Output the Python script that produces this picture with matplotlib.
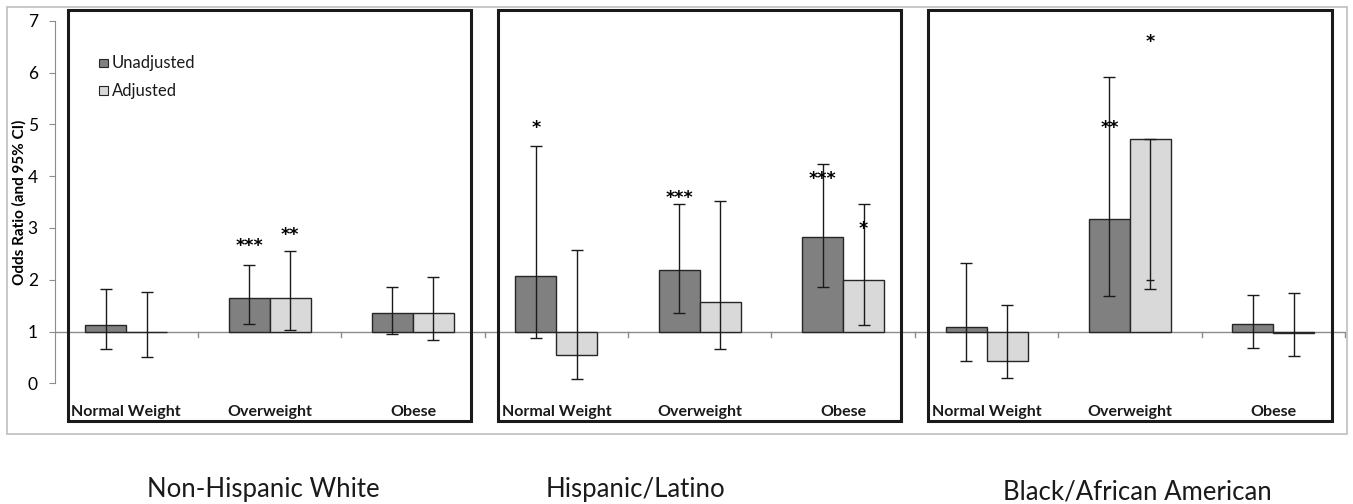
import matplotlib
matplotlib.use("Agg")
import matplotlib.pyplot as plt
from matplotlib.patches import Rectangle
import numpy as np

groups = ["Non-Hispanic White", "Hispanic/Latino", "Black/African American"]
weights = ["Normal Weight", "Overweight", "Obese"]

unadj = [1.13, 1.65, 1.35, 2.08, 2.19, 2.82, 1.09, 3.18, 1.14]
unadj_lo = [0.67, 1.15, 0.96, 0.88, 1.36, 1.85, 0.44, 1.69, 0.69]
unadj_hi = [1.83, 2.29, 1.85, 4.58, 3.47, 4.24, 2.32, 5.91, 1.70]

adj = [1.00, 1.65, 1.35, 0.55, 1.57, 1.99, 0.44, 4.72, 0.97]
adj_lo = [0.51, 1.02, 0.83, 0.09, 0.67, 1.13, 0.10, 1.83, 0.52]
adj_hi = [1.76, 2.55, 2.05, 2.57, 3.52, 3.47, 1.51, 4.72, 1.74]
extra_cap = (7, 2.00)  # additional cap drawn on the Black/AA adjusted overweight bar

unadj_stars = ["", "***", "", "*", "***", "***", "", "**", ""]
unadj_star_y = [0, 2.66, 0, 4.93, 3.58, 3.94, 0, 4.92, 0]
adj_stars = ["", "**", "", "", "", "*", "", "*", ""]
adj_star_y = [0, 2.87, 0, 0, 0, 2.97, 0, 6.59, 0]

base = 1.0
W, H = 1353, 504
fig = plt.figure(figsize=(W / 100, H / 100), dpi=100)
fig.patch.set_facecolor("white")

# outer chart border
fig.add_artist(Rectangle((7 / W, 1 - 434 / H), 1340 / W, 427 / H, transform=fig.transFigure,
                         fill=False, edgecolor="#bfbfbf", lw=1.2))

ax = fig.add_axes([54.5 / W, (H - 383.3) / H, 1290.5 / W, 362.6 / H])
ax.set_xlim(0, 9)
ax.set_ylim(0, 7)

x = np.arange(9) + 0.5
bw = 0.286
dark = "#808080"
light = "#d9d9d9"

u = np.array(unadj)
a = np.array(adj)
ax.bar(x - bw / 2, u - base, bottom=base, width=bw, color=dark, edgecolor="#262626", lw=1.0, zorder=3)
ax.bar(x + bw / 2, a - base, bottom=base, width=bw, color=light, edgecolor="#262626", lw=1.0, zorder=3)

ek = dict(fmt="none", ecolor="#1a1a1a", elinewidth=1.0, capsize=4, capthick=1.0, zorder=4)
ax.errorbar(x - bw / 2, u, yerr=[u - np.array(unadj_lo), np.array(unadj_hi) - u], **ek)
ax.errorbar(x + bw / 2, a, yerr=[a - np.array(adj_lo), np.array(adj_hi) - a], **ek)
ci, cy = extra_cap
ax.hlines(cy, x[ci] + bw / 2 - 0.028, x[ci] + bw / 2 + 0.028, color="#1a1a1a", lw=1.0, zorder=4)

for i in range(9):
    if unadj_stars[i]:
        ax.text(x[i] - bw / 2, unadj_star_y[i], unadj_stars[i], ha="center", va="center",
                fontsize=12.5, fontweight="bold", family="DejaVu Sans", zorder=5)
    if adj_stars[i]:
        ax.text(x[i] + bw / 2, adj_star_y[i], adj_stars[i], ha="center", va="center",
                fontsize=12.5, fontweight="bold", family="DejaVu Sans", zorder=5)

# baseline at 1 with small ticks
ax.axhline(base, color="#8c8c8c", lw=1.0, zorder=2)
for k in range(1, 10):
    ax.plot([k, k], [base, base - 0.1], color="#8c8c8c", lw=1.0, clip_on=False, zorder=2)

# category labels
for i in range(9):
    ax.text(x[i], -0.55, weights[i % 3], ha="center", va="center", fontsize=11.5,
            fontweight="bold", family="Lato", color="#1a1a1a", clip_on=False)

# group boxes
for g in range(3):
    ax.add_patch(Rectangle((g * 3 + 0.094, -0.73), 2.812, 7.93, fill=False, edgecolor="#1a1a1a",
                           lw=2.2, clip_on=False, zorder=6))

# group titles
gx = [263, 635, 1137]
gy = [489, 489, 492]
for g in range(3):
    fig.text(gx[g] / W, 1 - gy[g] / H, groups[g], ha="center", va="center", fontsize=18.5,
             family="Lato", color="#1a1a1a")

# axes styling
for s in ["top", "right", "bottom"]:
    ax.spines[s].set_visible(False)
ax.spines["left"].set_color("#8c8c8c")
ax.set_xticks([])
ax.set_yticks(range(0, 8))
ax.tick_params(axis="y", length=4, color="#8c8c8c", labelsize=12.5, pad=8)
for t in ax.get_yticklabels():
    t.set_family("Lato")
ax.set_ylabel("Odds Ratio (and 95% CI)", fontsize=11, fontweight="bold", family="Lato", labelpad=1)

# legend
ax.add_patch(Rectangle((0.31, 6.10), 0.065, 0.17, facecolor=dark, edgecolor="#262626", lw=0.8,
                       clip_on=False, zorder=6))
ax.add_patch(Rectangle((0.31, 5.56), 0.065, 0.17, facecolor=light, edgecolor="#262626", lw=0.8,
                       clip_on=False, zorder=6))
ax.text(0.40, 6.18, "Unadjusted", va="center", ha="left", fontsize=12, family="Lato", color="#1a1a1a")
ax.text(0.40, 5.645, "Adjusted", va="center", ha="left", fontsize=12, family="Lato", color="#1a1a1a")

fig.savefig("out.png", dpi=100, facecolor="white")
